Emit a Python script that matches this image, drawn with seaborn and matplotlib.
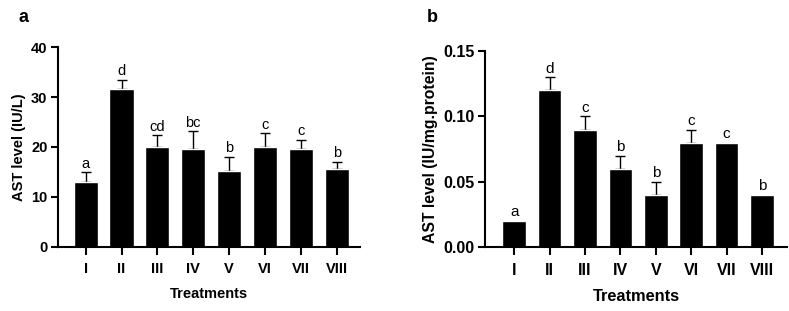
import matplotlib
matplotlib.use("Agg")
import matplotlib.pyplot as plt
import seaborn as sns
import numpy as np
import pandas as pd

treatments = ["I", "II", "III", "IV", "V", "VI", "VII", "VIII"]

# panel a: serum AST (IU/L)
ast_serum = [13.0, 31.6, 19.9, 19.5, 15.2, 20.0, 19.6, 15.65]
ast_serum_err = [1.9, 1.9, 2.4, 3.6, 2.75, 2.7, 1.8, 1.4]
letters_a = ["a", "d", "cd", "bc", "b", "c", "c", "b"]

# panel b: tissue AST (IU/mg.protein)
ast_tissue = [0.02, 0.12, 0.09, 0.06, 0.04, 0.08, 0.08, 0.04]
ast_tissue_err = [0.0, 0.01, 0.01, 0.01, 0.01, 0.01, 0.0, 0.0]
letters_b = ["a", "d", "c", "b", "b", "c", "c", "b"]

sns.set_style("ticks", {"axes.edgecolor": "black", "text.color": "black",
                        "axes.labelcolor": "black", "xtick.color": "black",
                        "ytick.color": "black"})
plt.rcParams["font.family"] = ["Liberation Sans", "DejaVu Sans"]

fig = plt.figure(figsize=(7.89, 3.11), dpi=100)
ax_a = fig.add_axes([0.0735, 0.207, 0.383, 0.641])
ax_b = fig.add_axes([0.615, 0.205, 0.383, 0.631])


def draw_panel(ax, vals, errs, letters, ylim, yticks, fmt, ylabel, tick_fs, lab_fs, let_fs):
    df = pd.DataFrame({"Treatment": treatments, "Value": vals, "Err": errs})
    sns.barplot(data=df, x="Treatment", y="Value", color="black", width=0.67,
                saturation=1, ax=ax, zorder=2)
    x = np.arange(len(treatments))
    # only upper error bars, skip groups without SD
    has_err = df["Err"] > 0
    ax.errorbar(x[has_err], df["Value"][has_err],
                yerr=[np.zeros(has_err.sum()), df["Err"][has_err]], fmt="none",
                ecolor="black", elinewidth=1.0, capsize=3.6, capthick=1.0, zorder=1)
    for xi, v, e, t in zip(x, vals, errs, letters):
        ax.annotate(t, (xi, v + e), xytext=(0, 1.2), textcoords="offset points",
                    ha="center", va="bottom", fontsize=let_fs, color="black")
    ax.set_ylim(*ylim)
    ax.set_yticks(yticks)
    ax.set_yticklabels([fmt.format(t) for t in yticks], fontweight="bold", fontsize=tick_fs)
    ax.set_xticks(x)
    ax.set_xticklabels(treatments, fontweight="bold", fontsize=tick_fs)
    ax.set_ylabel(ylabel, fontweight="bold", fontsize=lab_fs)
    sns.despine(ax=ax)
    for s in ["left", "bottom"]:
        ax.spines[s].set_linewidth(1.5)
    ax.tick_params(axis="both", width=1.5, length=5, pad=2.5, colors="black")
    ax.tick_params(axis="x", length=6, pad=5)


draw_panel(ax_a, ast_serum, ast_serum_err, letters_a, (0, 40), [0, 10, 20, 30, 40], "{:.0f}",
           "AST level (IU/L)", 10.5, 10.5, 10.5)
ax_a.set_xlim(-0.77, 7.65)
ax_a.set_xlabel("Treatments", fontweight="bold", fontsize=10.5, labelpad=8)

draw_panel(ax_b, ast_tissue, ast_tissue_err, letters_b, (0, 0.15), [0.0, 0.05, 0.10, 0.15], "{:.2f}",
           "AST level (IU/mg.protein)", 11.5, 11.3, 11)
ax_b.set_xlim(-0.82, 7.72)
ax_b.set_xlabel("Treatments", fontweight="bold", fontsize=11.8, labelpad=8)

fig.text(0.023, 0.929, "a", fontsize=13, fontweight="bold", color="black")
fig.text(0.541, 0.930, "b", fontsize=13, fontweight="bold", color="black")

fig.savefig("out.png", dpi=100)
